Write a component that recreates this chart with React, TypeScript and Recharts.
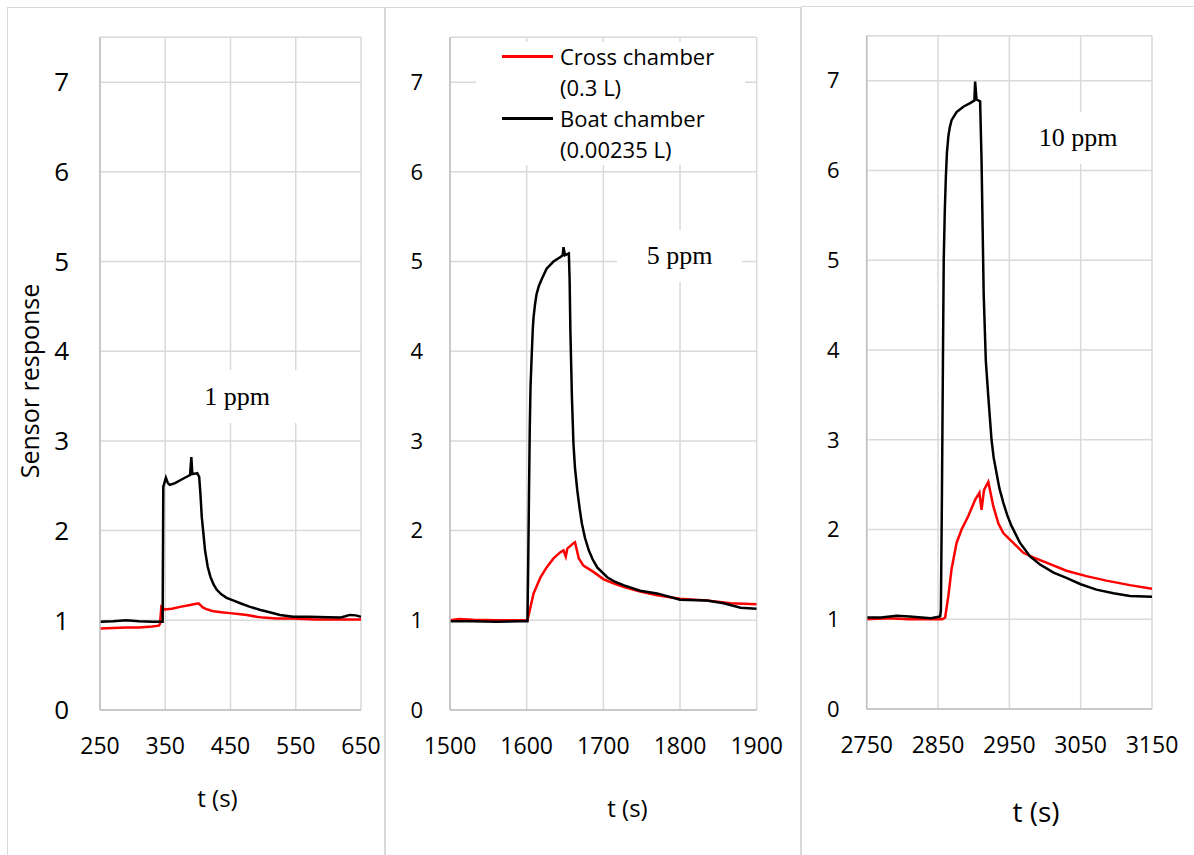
import { LineChart, Line, XAxis, YAxis, CartesianGrid, Legend } from "recharts";

type Pt = [number, number];

// Cross chamber (red) and boat chamber (black), one pair per concentration
const cross1ppm: Pt[] = [
  [250, 0.91], [270, 0.915], [290, 0.92], [310, 0.92], [330, 0.93], [340, 0.94], [342, 0.96], [344, 1.15],
  [349, 1.12], [360, 1.13], [373, 1.15], [388, 1.17], [401, 1.19], [408, 1.14], [415, 1.12], [424, 1.1],
  [436, 1.09], [449, 1.08], [462, 1.07], [475, 1.06], [490, 1.04], [500, 1.03], [520, 1.02], [546, 1.02],
  [580, 1.01], [610, 1.01], [650, 1.01],
];
const boat1ppm: Pt[] = [
  [250, 0.985], [270, 0.99], [290, 1.0], [310, 0.99], [330, 0.985], [346, 0.985], [347, 2.49], [351, 2.59],
  [354, 2.53], [357, 2.51], [365, 2.53], [375, 2.57], [388, 2.62], [390, 2.82], [391.5, 2.63], [399, 2.64],
  [402, 2.6], [404, 2.4], [406, 2.15], [411, 1.78], [415, 1.6], [419, 1.49], [424, 1.4], [429, 1.34],
  [436, 1.29], [444, 1.25], [455, 1.22], [465, 1.19], [480, 1.15], [496, 1.115], [510, 1.09], [526, 1.06],
  [546, 1.04], [570, 1.04], [600, 1.035], [618, 1.03], [626, 1.045], [633, 1.06], [642, 1.055], [650, 1.04],
];
const cross5ppm: Pt[] = [
  [1500, 1.0], [1512, 1.015], [1530, 1.005], [1560, 1.0], [1585, 1.0], [1601, 1.0], [1605, 1.15], [1609, 1.3],
  [1618, 1.48], [1626, 1.59], [1635, 1.69], [1644, 1.76], [1648, 1.78], [1651, 1.71], [1653, 1.8], [1661, 1.86],
  [1663, 1.87], [1668, 1.69], [1674, 1.61], [1687, 1.54], [1700, 1.46], [1714, 1.41], [1727, 1.37], [1748, 1.32],
  [1770, 1.28], [1800, 1.24], [1835, 1.22], [1866, 1.19], [1900, 1.18],
];
const boat5ppm: Pt[] = [
  [1500, 0.99], [1530, 0.99], [1560, 0.985], [1590, 0.99], [1601, 0.99], [1602, 1.63], [1603, 2.4], [1604, 3.12],
  [1605, 3.6], [1606.5, 3.94], [1608, 4.25], [1609, 4.38], [1611, 4.53], [1613, 4.64], [1616, 4.73], [1620, 4.81],
  [1626, 4.92], [1635, 5.0], [1644, 5.05], [1647, 5.07], [1648, 5.16], [1650, 5.07], [1655, 5.09], [1656, 4.8],
  [1657, 4.23], [1659, 3.49], [1661, 2.97], [1663, 2.7], [1666, 2.45], [1669, 2.25], [1672, 2.08], [1676, 1.92],
  [1681, 1.78], [1686, 1.68], [1692, 1.59], [1705, 1.48], [1715, 1.43], [1727, 1.39], [1748, 1.33], [1770, 1.3],
  [1800, 1.23], [1835, 1.22], [1857, 1.19], [1879, 1.14], [1900, 1.13],
];
const cross10ppm: Pt[] = [
  [2750, 1.0], [2780, 1.01], [2810, 1.0], [2840, 1.0], [2856, 1.0], [2860, 1.02], [2864.5, 1.26], [2869, 1.56],
  [2876, 1.85], [2883, 2.0], [2892.5, 2.15], [2902, 2.33], [2908, 2.41], [2911, 2.22], [2914.5, 2.44],
  [2920.5, 2.53], [2927.5, 2.26], [2934.5, 2.07], [2941.5, 1.96], [2953, 1.87], [2969.6, 1.74], [2983.6, 1.69],
  [3002, 1.63], [3030, 1.54], [3058, 1.48], [3086, 1.43], [3119, 1.38], [3150, 1.34],
];
const boat10ppm: Pt[] = [
  [2750, 1.02], [2770, 1.02], [2792, 1.04], [2810, 1.03], [2840, 1.01], [2853, 1.03], [2854, 1.1],
  [2855.5, 2.4], [2857, 4.0], [2858, 5.0], [2859.5, 5.55], [2861, 5.93], [2862.5, 6.2], [2864.5, 6.38],
  [2866.5, 6.48], [2869, 6.56], [2876, 6.65], [2885.5, 6.71], [2895, 6.75], [2901, 6.78], [2902, 6.99],
  [2904, 6.79], [2909, 6.77], [2911, 6.12], [2914, 4.63], [2917, 3.88], [2920.5, 3.48], [2925, 3.0],
  [2928, 2.8], [2932, 2.63], [2936, 2.46], [2941.5, 2.3], [2947, 2.16], [2953, 2.04], [2965, 1.85],
  [2979, 1.7], [2993, 1.61], [3012, 1.52], [3030, 1.46], [3050, 1.39], [3072, 1.33], [3096, 1.29],
  [3119, 1.26], [3150, 1.25],
];

const xTicks1 = [250, 350, 450, 550, 650];
const xTicks5 = [1500, 1600, 1700, 1800, 1900];
const xTicks10 = [2750, 2850, 2950, 3050, 3150];
const yTicks = [0, 1, 2, 3, 4, 5, 6, 7];

const SANS = "'Open Sans', sans-serif";
const SERIF = "'Liberation Serif', 'Times New Roman', serif";
const GRID = "#d9d9d9";
const AXIS = "#bfbfbf";

const toRows = (pts: Pt[]) => pts.map(([t, v]) => ({ t, v }));

interface PanelProps {
  left: number;
  width: number;
  top: number;
  bottom: number;
  yAxisWidth: number;
  rightMargin: number;
  yFont: number;
  yGap: number;
  ticks: number[];
  cross: Pt[];
  boat: Pt[];
  legend?: boolean;
}

function LegendBox() {
  const entry = (top: number, color: string, a: string, b: string) => (
    <>
      <div style={{ position: "absolute", left: 26, top: top - 1, width: 51, height: 2.5, background: color }} />
      <div style={{ position: "absolute", left: 84, top: top - 15, fontSize: 22, lineHeight: "31px", whiteSpace: "nowrap" }}>
        {a}
        <br />
        {b}
      </div>
    </>
  );
  return (
    <div style={{ position: "relative", width: 269, height: 123, background: "#fff", fontFamily: SANS, color: "#000" }}>
      {entry(14, "#ff0000", "Cross chamber", "(0.3 L)")}
      {entry(76, "#000000", "Boat chamber", "(0.00235 L)")}
    </div>
  );
}

function Panel(p: PanelProps) {
  const xAxisH = 60;
  return (
    <div style={{ position: "absolute", left: p.left, top: 0 }}>
      <LineChart
        width={p.width}
        height={855}
        margin={{ top: p.top, right: p.rightMargin, left: 0, bottom: 855 - p.bottom - xAxisH }}
        style={{ fontFamily: SANS }}
      >
        <CartesianGrid stroke={GRID} strokeWidth={1.5} />
        <XAxis
          type="number"
          dataKey="t"
          domain={[p.ticks[0], p.ticks[p.ticks.length - 1]]}
          ticks={p.ticks}
          allowDataOverflow
          height={xAxisH}
          tickLine={false}
          tickSize={0}
          tickMargin={28}
          axisLine={{ stroke: AXIS, strokeWidth: 1.5 }}
          tick={{ fontSize: 23, fill: "#000" }}
        />
        <YAxis
          type="number"
          domain={[0, 7.5]}
          ticks={yTicks}
          allowDataOverflow
          width={p.yAxisWidth}
          tickLine={false}
          tickSize={0}
          tickMargin={p.yGap}
          axisLine={{ stroke: AXIS, strokeWidth: 1.5 }}
          tick={{ fontSize: p.yFont, fill: "#000" }}
        />
        {p.legend && (
          <Legend
            layout="vertical"
            align="center"
            verticalAlign="middle"
            wrapperStyle={{ position: "absolute", left: 91, top: 42, width: 269, height: 123 }}
            content={() => <LegendBox />}
          />
        )}
        <Line
          data={toRows(p.cross)}
          dataKey="v"
          name="Cross chamber (0.3 L)"
          type="linear"
          stroke="#ff0000"
          strokeWidth={2.5}
          dot={false}
          isAnimationActive={false}
        />
        <Line
          data={toRows(p.boat)}
          dataKey="v"
          name="Boat chamber (0.00235 L)"
          type="linear"
          stroke="#000000"
          strokeWidth={2.5}
          dot={false}
          isAnimationActive={false}
        />
      </LineChart>
    </div>
  );
}

function Note({ x, y, w, h, text }: { x: number; y: number; w: number; h: number; text: string }) {
  return (
    <div
      style={{
        position: "absolute", left: x, top: y, width: w, height: h, background: "#fff",
        display: "flex", alignItems: "center", justifyContent: "center",
        fontFamily: SERIF, fontSize: 26, color: "#000", whiteSpace: "nowrap",
      }}
    >
      {text}
    </div>
  );
}

function AxisTitle({ cx, cy, size, text, rotate }: { cx: number; cy: number; size: number; text: string; rotate?: boolean }) {
  return (
    <div
      style={{
        position: "absolute", left: cx, top: cy, fontFamily: SANS, fontSize: size, color: "#000",
        whiteSpace: "nowrap", lineHeight: 1,
        transform: `translate(-50%, -50%)${rotate ? " rotate(-90deg)" : ""}`,
      }}
    >
      {text}
    </div>
  );
}

const frame = (left: number, top: number, width: number) => (
  <div
    style={{
      position: "absolute", left, top, width, height: 900,
      borderLeft: `1.5px solid ${GRID}`, borderTop: `1.5px solid ${GRID}`, borderRight: `1.5px solid ${GRID}`,
    }}
  />
);

export default function App() {
  return (
    <div style={{ position: "fixed", left: 0, top: 0, width: 1194, height: 855, overflow: "hidden", background: "#fff" }}>
      {frame(6.5, 6.5, 376)}
      {frame(385, 6.5, 414)}
      {frame(800.5, 5.5, 420)}

      <Panel left={0} width={384} top={37.3} bottom={710} yAxisWidth={100} rightMargin={23}
        yFont={26} yGap={31} ticks={xTicks1} cross={cross1ppm} boat={boat1ppm} />
      <Panel left={385} width={415} top={37.3} bottom={710} yAxisWidth={65} rightMargin={43.3}
        yFont={22} yGap={27} ticks={xTicks5} cross={cross5ppm} boat={boat5ppm} legend />
      <Panel left={801} width={393} top={35.8} bottom={709} yAxisWidth={65.7} rightMargin={42}
        yFont={22} yGap={27} ticks={xTicks10} cross={cross10ppm} boat={boat10ppm} />

      <Note x={172} y={370} w={130} h={53} text="1 ppm" />
      <Note x={617} y={230} w={125} h={52} text="5 ppm" />
      <Note x={1013} y={112} w={130} h={52} text="10 ppm" />

      <AxisTitle cx={29} cy={381} size={25} text="Sensor response" rotate />
      <AxisTitle cx={217.5} cy={798} size={24} text="t (s)" />
      <AxisTitle cx={627.5} cy={808} size={24} text="t (s)" />
      <AxisTitle cx={1036} cy={811} size={28} text="t (s)" />
    </div>
  );
}
